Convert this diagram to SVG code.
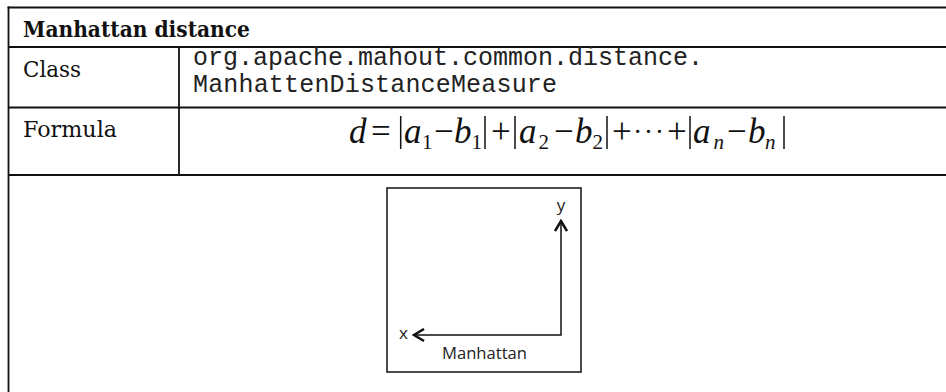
<svg xmlns="http://www.w3.org/2000/svg" width="946" height="392" viewBox="0 0 946 392">
  <style>
    .grid { stroke: #111; stroke-width: 1.8; fill: none; }
    .lbl { font-family: "DejaVu Serif", "Liberation Serif", serif; font-size: 23px; fill: #111; }
    .hdr { font-family: "DejaVu Serif", "Liberation Serif", serif; font-size: 22px; font-weight: bold; fill: #111; }
    .mono { font-family: "Liberation Mono", "Courier New", monospace; font-size: 25px; fill: #222; }
    .m { font-family: "Liberation Serif", "Times New Roman", serif; font-size: 35px; fill: #111; }
    .mi { font-style: italic; }
    .sub { font-size: 21px; }
    .bar { stroke: #111; stroke-width: 1.5; }
    .sans { font-family: "Open Sans", "Liberation Sans", sans-serif; font-size: 17px; fill: #222; }
    .axis { stroke: #111; stroke-width: 1.5; fill: none; }
  </style>
  <defs>
    <marker id="chev" viewBox="0 0 13 14" refX="11" refY="7" markerWidth="13" markerHeight="14" markerUnits="userSpaceOnUse" orient="auto-start-reverse">
      <path d="M1,1 L11,7 L1,13" fill="none" stroke="#111" stroke-width="2.5" stroke-linejoin="miter"/>
    </marker>
  </defs>
  <rect width="946" height="392" fill="#fff"/>

  <g id="table">
    <line class="grid" x1="7.6" y1="7.5" x2="946" y2="7.5"/>
    <line class="grid" x1="8.5" y1="6.6" x2="8.5" y2="392"/>
    <line class="grid" x1="8" y1="47" x2="946" y2="47"/>
    <line class="grid" x1="8" y1="107.5" x2="946" y2="107.5"/>
    <line class="grid" x1="8" y1="175" x2="946" y2="175"/>
    <line class="grid" x1="179" y1="47" x2="179" y2="175"/>
  </g>

  <g id="header">
    <text class="hdr" x="23" y="36.5" textLength="227" lengthAdjust="spacingAndGlyphs">Manhattan distance</text>
  </g>

  <g id="class-row">
    <text class="lbl" x="23" y="77" textLength="58" lengthAdjust="spacingAndGlyphs">Class</text>
    <text class="mono" x="193" y="64.5">org.apache.mahout.common.distance.</text>
    <text class="mono" x="193" y="91.5" textLength="364">ManhattenDistanceMeasure</text>
  </g>

  <g id="formula-row">
    <text class="lbl" x="23" y="137" textLength="94" lengthAdjust="spacingAndGlyphs">Formula</text>
    <g id="formula">
      <text class="m mi" x="349" y="143">d</text>
      <text class="m" x="371" y="143">=</text>
      <line class="bar" x1="400.7" y1="116" x2="400.7" y2="149"/>
      <text class="m mi" x="404" y="143">a</text>
      <text class="m sub" x="422" y="149">1</text>
      <text class="m" x="434" y="143">−</text>
      <text class="m mi" x="454" y="143">b</text>
      <text class="m sub" x="471.5" y="149">1</text>
      <line class="bar" x1="485" y1="116" x2="485" y2="149"/>
      <text class="m" x="491" y="143">+</text>
      <line class="bar" x1="515" y1="116" x2="515" y2="149"/>
      <text class="m mi" x="519" y="143">a</text>
      <text class="m sub" x="538.5" y="149">2</text>
      <text class="m" x="554" y="143">−</text>
      <text class="m mi" x="575" y="143">b</text>
      <text class="m sub" x="592.5" y="149">2</text>
      <line class="bar" x1="607" y1="116" x2="607" y2="149"/>
      <text class="m" x="612" y="143">+</text>
      <text class="m" y="143"><tspan x="633" y="141" font-size="28" letter-spacing="1.5">···</tspan><tspan x="667" y="143">+</tspan></text>
      <line class="bar" x1="690" y1="116" x2="690" y2="149"/>
      <text class="m mi" x="693" y="143">a</text>
      <text class="m mi sub" x="713.5" y="149">n</text>
      <text class="m" x="727" y="143">−</text>
      <text class="m mi" x="748" y="143">b</text>
      <text class="m mi sub" x="765" y="149">n</text>
      <line class="bar" x1="784" y1="116" x2="784" y2="149"/>
    </g>
  </g>

  <g id="manhattan-box">
    <rect x="387" y="188" width="194" height="184" fill="#fff" stroke="#111" stroke-width="1.5"/>
    <text class="sans" x="484.5" y="359" text-anchor="middle" textLength="85" lengthAdjust="spacingAndGlyphs">Manhattan</text>
  </g>

  <g id="axis-y">
    <text class="sans" x="561" y="211" text-anchor="middle">y</text>
  </g>
  <g id="axis-x">
    <text class="sans" x="403.5" y="339" text-anchor="middle">x</text>
  </g>

  <g id="connectors">
    <path class="axis" d="M561,221 L561,335 L414,335" marker-start="url(#chev)" marker-end="url(#chev)"/>
  </g>
</svg>
